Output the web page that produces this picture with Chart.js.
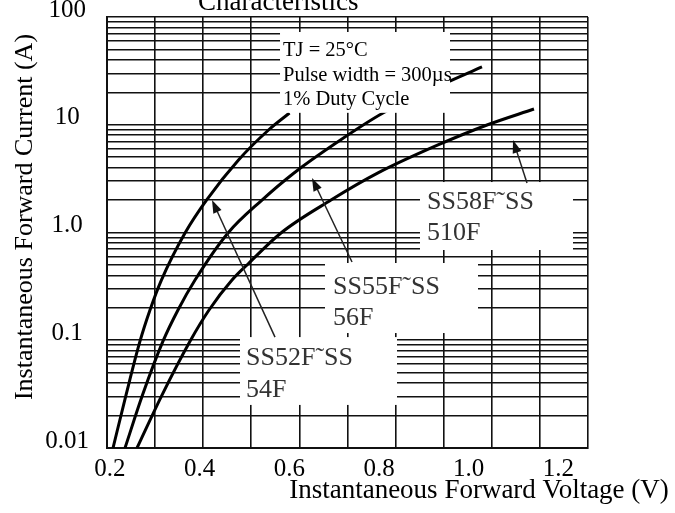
<!DOCTYPE html>
<html>
<head>
<meta charset="utf-8">
<script src="https://cdn.jsdelivr.net/npm/chart.js@4.4.1/dist/chart.umd.min.js"></script>
<style>
  html, body { margin: 0; padding: 0; background: #fff; }
</style>
</head>
<body>
<canvas id="chart" width="675" height="513"></canvas>
<script>
// Forward voltage (V) / forward current (A)
const ss52Volts = [0.2125, 0.2395, 0.2686, 0.2894, 0.3131, 0.3622, 0.4069, 0.4734, 0.5358, 0.5794];
const ss52Amps  = [0.01, 0.031, 0.098, 0.191, 0.362, 0.99, 2.0, 4.71, 8.94, 12.85];

const ss55Volts = [0.2374, 0.2738, 0.3164, 0.3476, 0.3830, 0.4516, 0.5222, 0.5888, 0.6761, 0.7738, 0.9173, 0.9796];
const ss55Amps  = [0.01, 0.031, 0.098, 0.191, 0.362, 0.99, 2.0, 3.57, 6.77, 12.85, 26.0, 34.4];

const ss58Volts = [0.2624, 0.3143, 0.3726, 0.4121, 0.4599, 0.4952, 0.5617, 0.6657, 0.7634, 0.8881, 0.9900, 1.0877];
const ss58Amps  = [0.01, 0.031, 0.098, 0.191, 0.362, 0.521, 0.99, 2.0, 3.57, 6.49, 9.95, 14.0];

// grid and tick values
const xGridValues = [0.2, 0.3, 0.4, 0.5, 0.6, 0.7, 0.8, 0.9, 1.0, 1.1, 1.2];
const xTickLabels = [0.2, 0.4, 0.6, 0.8, 1.0, 1.2];
const yGridValues = [
  0.01, 0.02, 0.03, 0.04, 0.05, 0.06, 0.07, 0.08, 0.09,
  0.1, 0.2, 0.3, 0.4, 0.5, 0.6, 0.7, 0.8, 0.9,
  1, 2, 3, 4, 5, 6, 7, 8, 9,
  10, 20, 30, 40, 50, 60, 70, 80, 90,
  100
];
const yDecades = [0.01, 0.1, 1, 10, 100];
const yDecadeLabels = ['0.01', '0.1', '1.0', '10', '100'];

const serif = '"Liberation Serif", "Times New Roman", serif';
Chart.defaults.font.family = serif;

function toPoints(xs, ys) {
    return xs.map((v, i) => ({ x: v, y: ys[i] }));
}

// white label boxes (data coords) that knock out the grid, like the datasheet
const noteBoxes = [
    { vMin: 0.5597, vMax: 0.9131, iMin: 12.9, iMax: 72.6, size: 20.5, color: '#000',
      padX: 3, firstLine: 19, lineGap: 24.5,
      lines: ['TJ = 25°C', 'Pulse width = 300µs', '1% Duty Cycle'] },
    { vMin: 0.8507, vMax: 1.1688, iMin: 0.688, iMax: 2.94, size: 26, color: '#333',
      padX: 7, firstLine: 20, lineGap: 31, lines: ['SS58F˜SS', '510F'] },
    { vMin: 0.6532, vMax: 0.9713, iMin: 0.1167, iMax: 0.521, size: 26, color: '#333',
      padX: 8, firstLine: 24, lineGap: 31, lines: ['SS55F˜SS', '56F'] },
    { vMin: 0.4765, vMax: 0.8029, iMin: 0.0251, iMax: 0.107, size: 26, color: '#333',
      padX: 6, firstLine: 21, lineGap: 32, lines: ['SS52F˜SS', '54F'] }
];

// leader arrows from the labels to their curve
const arrows = [
    { from: [0.5493, 0.107], to: [0.4183, 2.0] },
    { from: [0.7094, 0.532], to: [0.6262, 3.2] },
    { from: [1.0732, 2.88], to: [1.0441, 7.22] }
];

function drawArrow(ctx, x0, y0, x1, y1) {
    const ang = Math.atan2(y1 - y0, x1 - x0);
    const len = 13, half = 4.5;
    ctx.beginPath();
    ctx.moveTo(x0, y0);
    ctx.lineTo(x1 - Math.cos(ang) * len * 0.8, y1 - Math.sin(ang) * len * 0.8);
    ctx.stroke();
    ctx.beginPath();
    ctx.moveTo(x1, y1);
    ctx.lineTo(x1 - len * Math.cos(ang) + half * Math.sin(ang), y1 - len * Math.sin(ang) - half * Math.cos(ang));
    ctx.lineTo(x1 - len * Math.cos(ang) - half * Math.sin(ang), y1 - len * Math.sin(ang) + half * Math.cos(ang));
    ctx.closePath();
    ctx.fill();
}

const notesPlugin = {
    id: 'notes',
    afterDatasetsDraw(chart) {
        const { ctx } = chart;
        const x = chart.scales.x, y = chart.scales.y;
        ctx.save();
        noteBoxes.forEach(b => {
            const left = x.getPixelForValue(b.vMin), right = x.getPixelForValue(b.vMax);
            const top = y.getPixelForValue(b.iMax), bottom = y.getPixelForValue(b.iMin);
            ctx.fillStyle = '#fff';
            ctx.fillRect(left, top, right - left, bottom - top);
            ctx.fillStyle = b.color;
            ctx.font = b.size + 'px ' + serif;
            ctx.textAlign = 'left';
            ctx.textBaseline = 'middle';
            b.lines.forEach((t, k) => ctx.fillText(t, left + b.padX, top + b.firstLine + k * b.lineGap));
        });
        ctx.strokeStyle = '#222';
        ctx.fillStyle = '#111';
        ctx.lineWidth = 1.5;
        arrows.forEach(a => {
            drawArrow(ctx,
                x.getPixelForValue(a.from[0]), y.getPixelForValue(a.from[1]),
                x.getPixelForValue(a.to[0]), y.getPixelForValue(a.to[1]));
        });
        ctx.restore();
    },
    afterDraw(chart) {
        const { ctx } = chart;
        ctx.save();
        ctx.fillStyle = '#000';
        // title is cut off by the top edge in the original
        ctx.font = '27px ' + serif;
        ctx.textAlign = 'left';
        ctx.textBaseline = 'alphabetic';
        ctx.fillText('Characteristics', 198, 10);
        // x axis title
        ctx.textAlign = 'center';
        ctx.fillText('Instantaneous Forward Voltage (V)', 479, 498);
        // y axis title
        ctx.translate(32, 217);
        ctx.rotate(-Math.PI / 2);
        ctx.font = '26px ' + serif;
        ctx.fillText('Instantaneous Forward Current (A)', 0, 0);
        ctx.restore();
    }
};

const curveStyle = {
    borderColor: '#000',
    borderWidth: 3,
    pointRadius: 0,
    fill: false,
    cubicInterpolationMode: 'monotone',
    xAxisID: 'x',
    yAxisID: 'y'
};

new Chart(document.getElementById('chart'), {
    type: 'line',
    data: {
        datasets: [
            { label: 'SS52F~SS54F', data: toPoints(ss52Volts, ss52Amps), ...curveStyle },
            { label: 'SS55F~SS56F', data: toPoints(ss55Volts, ss55Amps), ...curveStyle },
            { label: 'SS58F~SS510F', data: toPoints(ss58Volts, ss58Amps), ...curveStyle }
        ]
    },
    options: {
        responsive: false,
        animation: false,
        layout: { padding: { top: 17, right: 87, left: 0, bottom: 0 } },
        plugins: {
            legend: { display: false },
            tooltip: { enabled: false },
            title: { display: false }
        },
        scales: {
            x: {
                type: 'linear',
                position: 'bottom',
                weight: 0,
                min: 0.2,
                max: 1.2,
                afterBuildTicks: s => { s.ticks = xGridValues.map(v => ({ value: v })); },
                afterFit: s => { s.height = 0; },
                ticks: { display: false },
                grid: { color: '#111', lineWidth: 1.6, drawTicks: false },
                border: { color: '#111', width: 2 }
            },
            // the printed voltage labels sit on a slightly compressed scale
            x2: {
                type: 'linear',
                position: 'bottom',
                weight: 1,
                min: 0.1934,
                max: 1.2661,
                afterBuildTicks: s => { s.ticks = xTickLabels.map(v => ({ value: v })); },
                afterFit: s => { s.height = 65; },
                grid: { display: false, drawTicks: false },
                border: { display: false },
                ticks: {
                    autoSkip: false,
                    maxRotation: 0,
                    padding: 6,
                    color: '#000',
                    font: { size: 25 },
                    callback: v => v.toFixed(1)
                }
            },
            y: {
                type: 'logarithmic',
                min: 0.01,
                max: 100,
                afterBuildTicks: s => { s.ticks = yGridValues.map(v => ({ value: v })); },
                afterFit: s => { s.width = 107; },
                ticks: {
                    autoSkip: false,
                    padding: 0,
                    crossAlign: 'center',
                    labelOffset: -7,
                    color: '#000',
                    font: { size: 25 },
                    callback: v => {
                        const i = yDecades.indexOf(v);
                        return i >= 0 ? yDecadeLabels[i] : '';
                    }
                },
                // invisible tick marks push the labels away from the axis
                grid: { color: '#111', lineWidth: 1.6, drawTicks: true, tickLength: 18, tickColor: 'rgba(0,0,0,0)' },
                border: { color: '#111', width: 2 }
            }
        }
    },
    plugins: [notesPlugin]
});
</script>
</body>
</html>
